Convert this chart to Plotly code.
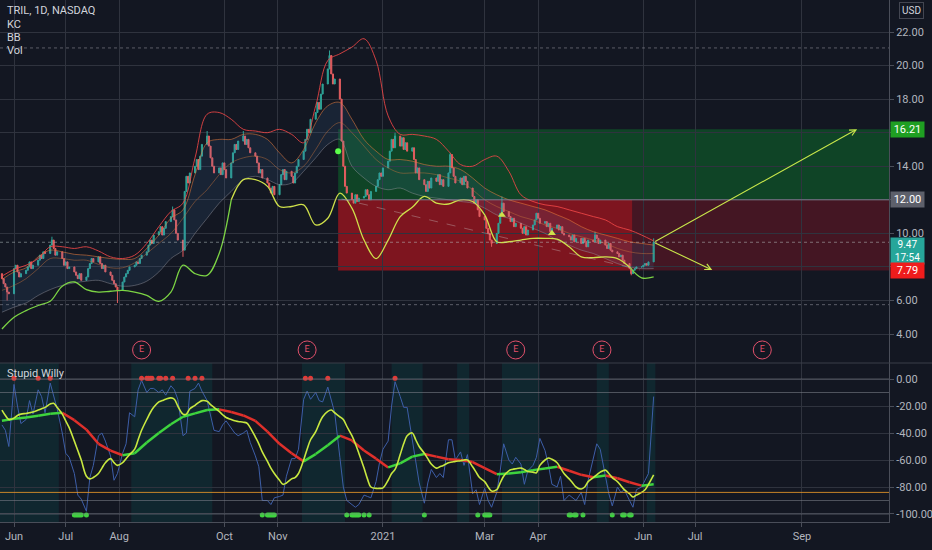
import pandas as pd
import plotly.graph_objects as go

# ---------------- data ----------------
# daily closes, trading days from 2020-05-25, one row per week (Mon..Fri)
close_rows = [
    [7.3, 7.0, 6.8, 6.5, 6.4],
    [7.9, 8.1, 7.7, 7.4, 7.6],
    [7.8, 8.0, 8.3, 7.9, 8.1],
    [8.4, 8.7, 8.5, 8.9, 8.8],
    [9.3, 9.6, 9.1, 8.7, 8.9],
    [8.5, 8.1, 8.3, 7.9, 8.0],
    [7.7, 7.5, 7.3, 7.6, 7.2],
    [7.4, 7.9, 8.2, 8.5, 8.3],
    [8.6, 8.2, 7.9, 8.1, 7.7],
    [7.5, 7.2, 7.0, 6.8, 6.6],
    [7.1, 7.4, 7.6, 7.8, 8.0],
    [8.1, 8.3, 8.2, 8.5, 8.7],
    [8.9, 9.3, 9.6, 9.4, 9.9],
    [10.1, 10.4, 9.9, 10.3, 10.7],
    [11.0, 11.4, 10.8, 10.0, 9.6],
    [9.0, 12.5, 13.4, 13.0, 13.6],
    [14.0, 14.4, 13.8, 14.6, 15.3],
    [15.8, 15.2, 14.5, 14.0, 13.6],
    [13.9, 13.5, 14.2, 13.8, 13.3],
    [14.2, 14.8, 15.3, 15.0, 15.5],
    [15.8, 15.3, 15.6, 15.1, 14.8],
    [14.6, 14.2, 13.6, 13.8, 13.3],
    [13.0, 12.7, 12.4, 12.8, 12.3],
    [12.9, 13.5, 13.8, 13.2, 13.7],
    [13.4, 13.0, 13.6, 14.0, 14.4],
    [14.9, 15.6, 16.2, 16.0, 16.8],
    [17.2, 17.8, 17.4, 18.3, 18.9],
    [19.8, 20.6, 19.5, 18.9, 19.2],
    [18.0, 15.5, 14.0, 12.8, 12.4],
    [12.0, 11.8, 12.3, 11.9, 12.1],
    [12.2, 12.6, 12.3, 12.0, 12.5],
    [12.8, 13.2, 13.6, 13.4, 13.9],
    [14.3, 14.9, 15.6, 15.1, 15.8],
    [15.2, 15.7, 15.0, 15.4, 14.9],
    [15.1, 14.4, 13.6, 13.9, 13.2],
    [12.9, 12.5, 13.1, 12.7, 13.3],
    [13.1, 13.5, 12.9, 13.2, 12.8],
    [13.6, 14.7, 13.9, 13.4, 13.0],
    [13.3, 12.9, 13.4, 13.1, 12.7],
    [12.2, 11.8, 12.0, 11.4, 11.0],
    [10.8, 10.3, 10.0, 9.6, 9.4],
    [10.0, 10.6, 11.2, 11.8, 11.3],
    [11.0, 10.7, 10.9, 10.4, 10.6],
    [10.3, 10.0, 10.4, 9.9, 10.2],
    [10.5, 10.8, 11.2, 10.9, 10.6],
    [10.7, 10.4, 10.6, 10.1, 10.3],
    [10.5, 10.2, 10.4, 10.0, 9.9],
    [9.8, 9.6, 9.9, 9.5, 9.7],
    [9.4, 9.7, 9.5, 9.2, 9.6],
    [9.5, 9.9, 9.7, 9.4, 9.6],
    [9.3, 9.1, 9.4, 9.0, 8.9],
    [8.8, 8.6, 8.7, 8.4, 8.2],
    [7.9, 7.6, 7.8, 7.9, 8.0],
    [8.0, 8.1, 8.2, 8.1, 8.3],
    [9.47],
]
first_open = 7.6
wick_high = {21: 9.8, 71: 11.6, 85: 16.1, 100: 16.1, 136: 20.9, 164: 16.0,
             186: 14.8, 208: 12.2, 246: 10.1, 270: 9.7}
wick_low = {3: 6.0, 49: 5.85, 75: 8.6, 204: 9.2, 261: 7.5}

# weekly (Monday) readings of the overlay lines
bb_upper = [7.45, 7.85, 8.1, 8.5, 9.2, 9.2, 9.1, 9.2, 8.95, 8.6, 8.5, 8.7, 9.4, 10.4, 11.3,
            11.8, 14.5, 17.1, 17.2, 16.8, 16.2, 16.1, 16.0, 16.2, 15.9, 15.4, 17.6, 20.3,
            20.7, 21.1, 21.6, 20.3, 17.0, 15.9, 15.9, 15.8, 15.6, 14.9, 14.1, 14.0, 14.4,
            14.6, 13.7, 12.3, 11.9, 11.7, 11.6, 11.4, 11.2, 11.0, 10.8, 10.4, 10.2, 9.9, 9.55]
kc_upper = [7.25, 7.7, 7.95, 8.6, 9.0, 8.9, 8.75, 8.7, 8.6, 8.5, 8.45, 8.5, 9.1, 9.9, 10.9,
            11.4, 13.5, 15.4, 15.6, 15.6, 15.9, 15.9, 15.6, 14.8, 14.2, 15.0, 16.6, 17.6,
            17.8, 16.8, 15.6, 14.9, 14.4, 14.4, 14.3, 14.1, 14.0, 14.0, 13.8, 13.3, 12.7,
            12.3, 12.0, 11.8, 11.6, 11.4, 11.1, 10.8, 10.4, 10.1, 9.9, 9.7, 9.5, 9.4, 9.3]
kc_mid = [6.6, 6.9, 7.3, 7.9, 8.5, 8.5, 8.4, 8.4, 8.15, 7.95, 7.95, 8.25, 8.8, 9.4, 10.0,
          10.9, 11.9, 12.6, 13.5, 14.2, 14.5, 14.6, 14.4, 13.8, 13.6, 14.0, 15.0, 16.1,
          16.6, 16.0, 15.2, 14.4, 13.9, 13.6, 13.6, 13.6, 13.5, 13.3, 13.1, 12.6, 12.0,
          11.6, 11.3, 11.0, 10.8, 10.5, 10.3, 10.0, 9.8, 9.6, 9.4, 9.1, 8.9, 8.8, 8.8]
kc_lower = [5.3, 5.6, 5.85, 6.3, 6.65, 6.9, 7.05, 7.15, 7.2, 7.0, 6.85, 6.9, 7.15, 7.7, 8.5,
            9.0, 10.0, 10.9, 11.8, 12.5, 13.2, 13.4, 13.2, 12.9, 13.0, 13.7, 14.5, 15.3,
            15.6, 14.0, 13.3, 12.8, 12.6, 12.7, 12.4, 12.2, 12.1, 12.0, 11.9, 11.8, 11.5,
            11.1, 10.9, 10.6, 10.3, 10.0, 9.6, 9.3, 9.0, 8.8, 8.5, 8.2, 8.0, 7.9, 7.9]
trail_band = [4.3, 5.0, 5.4, 5.7, 5.95, 6.85, 7.1, 6.65, 6.5, 6.55, 6.6, 6.5, 6.3, 5.95, 6.5,
              8.1, 7.6, 7.5, 8.8, 12.0, 13.2, 13.2, 12.8, 11.6, 11.6, 11.7, 10.5, 10.9,
              12.4, 11.5, 9.6, 8.5, 9.6, 11.0, 11.55, 12.2, 11.8, 11.75, 12.0, 11.9, 11.1,
              9.5, 9.5, 9.6, 9.7, 9.7, 9.65, 9.2, 8.6, 8.55, 8.6, 8.5, 8.0, 7.35, 7.4]

# oscillator pane ("Stupid Willy")
slow_line = [-31, -29.5, -28.5, -27.2, -25.8, -25, -30.5, -37.5, -48, -53, -56.5, -55, -47,
             -40, -33.5, -28, -25.5, -23, -22.5, -24.5, -27, -31, -39, -48, -55, -61, -55.6,
             -49, -42, -45.5, -53, -59, -65.5, -62.5, -57.5, -55.5, -57.5, -59.5, -60, -61.5,
             -66, -70.5, -70, -69, -67.5, -66.3, -65, -68, -71, -72.8, -71.5, -73.5, -76.5,
             -79, -78]
# Mon / Wed / Fri readings
fast_rows = [
    [-23, -27, -30], [-29, -27, -26], [-25.5, -25, -24.4], [-23, -22, -21], [-18.5, -18, -21],
    [-26, -31, -36], [-46, -53, -60], [-72, -74, -73], [-70, -66, -62], [-59, -62, -64],
    [-62, -59, -56], [-52, -45, -38], [-30, -25, -21], [-17, -16, -15], [-14, -15, -20],
    [-26, -26, -22], [-19.5, -17.5, -16], [-16.5, -19, -21], [-24, -26.5, -28.5], [-30, -31, -31.5],
    [-32, -32.6, -36], [-43, -48, -54], [-61, -66, -70], [-75, -78, -77], [-74, -73, -70],
    [-60, -52, -45], [-39, -33, -28], [-24, -23, -25], [-28, -30, -35], [-42, -48, -55],
    [-66, -74, -80], [-81, -81, -80.7], [-75, -70, -67], [-56, -48, -42], [-40, -45, -50],
    [-55, -59, -63], [-66, -65, -64], [-62, -61.5, -61], [-60.5, -60, -60], [-65, -69, -73],
    [-76, -80, -83], [-82, -77, -72], [-68, -67, -66.5], [-66, -67, -68.5], [-69, -69.5, -64],
    [-60, -58.5, -59.5], [-62, -66, -70], [-74, -77, -80], [-81.5, -80, -76], [-73, -71, -69],
    [-67.5, -70, -73], [-76, -79, -82], [-85, -87.4, -86], [-84, -82, -78], [-71],
]
willr_rows = [
    [-34, -38, -50], [-4, -20, -33], [-30, -16, -26], [-8, -13, -25], [-3, -12, -22],
    [-40, -55, -58], [-70, -86, -89], [-98, -73, -64], [-42, -40, -46], [-57, -75, -70],
    [-55, -48, -25], [-28, -8, -1], [-10, -7, -7], [-10, -8, -12], [-5, -8, -15],
    [-42, -40, -9], [-7, -3, -9], [-16, -28, -38], [-39, -34, -31], [-37, -40, -42],
    [-40, -38, -47], [-57, -65, -90], [-90, -93, -88], [-87, -86, -72], [-59, -59, -52],
    [-15, -9, -15], [-10, -16, -17], [-6, -16, -25], [-58, -80, -90], [-93, -95, -93],
    [-86, -87, -88], [-76, -62, -52], [-46, -20, -2], [-13, -21, -21], [-45, -63, -77],
    [-92, -77, -67], [-73, -70, -73], [-45, -45, -60], [-54, -64, -56], [-85, -82, -93],
    [-81, -90, -95], [-84, -68, -48], [-60, -63, -58], [-63, -78, -68], [-64, -58, -44],
    [-53, -64, -78], [-80, -72, -90], [-86, -88, -90], [-84, -93, -75], [-60, -48, -52],
    [-72, -85, -94], [-80, -84, -82], [-90, -95, -82], [-80, -75, -70], [-13],
]
red_dot_dates = ['2020-06-01', '2020-06-15', '2020-06-22', '2020-08-14', '2020-08-17',
                 '2020-08-18', '2020-08-19', '2020-08-20', '2020-08-24', '2020-08-25',
                 '2020-08-28', '2020-09-01', '2020-09-10', '2020-09-14', '2020-09-18',
                 '2020-11-17', '2020-11-20', '2020-11-30', '2021-01-08']
green_dot_dates = ['2020-07-06', '2020-07-07', '2020-07-08', '2020-07-09', '2020-07-10',
                   '2020-07-13', '2020-10-23', '2020-10-26', '2020-10-27', '2020-10-28',
                   '2020-10-29', '2020-10-30', '2020-12-11', '2020-12-14', '2020-12-15',
                   '2020-12-16', '2020-12-17', '2020-12-18', '2020-12-21', '2020-12-24',
                   '2021-01-25', '2021-02-25', '2021-03-01', '2021-03-02', '2021-03-03',
                   '2021-03-04', '2021-04-19', '2021-04-20', '2021-04-22', '2021-04-23',
                   '2021-04-27', '2021-05-14', '2021-05-20', '2021-05-21', '2021-05-24',
                   '2021-05-25']
shade_starts = ['2020-05-23', '2020-08-08', '2020-11-15', '2021-01-06', '2021-02-13',
                '2021-03-11', '2021-05-05', '2021-06-03']
shade_ends = ['2020-06-27', '2020-09-24', '2020-12-10', '2021-01-24', '2021-02-20',
              '2021-04-02', '2021-05-12', '2021-06-08']
osc_levels = [0, -10, -90, -100]
osc_orange_level = -84

earn_dates = ['2020-08-14', '2020-11-18', '2021-03-19', '2021-05-08', '2021-08-09']
earn_price = 3.05
signal_dates = ['2020-12-06']
signal_prices = [14.9]
tri_dates = ['2021-03-11', '2021-04-09']
tri_prices = [11.1, 10.0]

entry_price, target_price, stop_price = 12.00, 16.21, 7.79
last_price = 9.47
countdown = '17:54'
pos_start = '2020-12-06'
pos_split = '2021-05-25 12:00'
arrow_start = '2021-06-07'
arrow_up_end = ('2021-10-03', 16.21)
arrow_down_end = ('2021-07-11', 7.82)
trend_start = ('2020-12-08', 12.05)
trend_end = ('2021-05-30', 7.82)
range_high, range_low = 21.05, 5.75

x_range = ['2020-05-23 21:00', '2021-10-21 12:00']
tick_dates = ['2020-06-01', '2020-07-01', '2020-08-01', '2020-10-01', '2020-11-01',
              '2021-01-01', '2021-03-01', '2021-04-01', '2021-06-01', '2021-07-01',
              '2021-09-01']
tick_text = ['Jun', 'Jul', 'Aug', 'Oct', 'Nov', '2021', 'Mar', 'Apr', 'Jun', 'Jul', 'Sep']
price_ticks = [4, 6, 8, 10, 12, 14, 16, 18, 20, 22]
price_tick_text = ['4.00', '6.00', '', '10.00', '', '14.00', '', '18.00', '20.00', '22.00']
osc_ticks = [-100, -80, -60, -40, -20, 0]
osc_tick_text = ['-100.00', '-80.00', '-60.00', '-40.00', '-20.00', '0.00']

# ---------------- build ----------------
BG = '#131722'
GRID = '#2f333e'
AX = '#4a4e59'
TXT = '#b2b5be'

closes = [v for row in close_rows for v in row]
dates = pd.bdate_range('2020-05-25', periods=len(closes))
opens = [first_open] + closes[:-1]
highs = [max(o, c) for o, c in zip(opens, closes)]
lows = [min(o, c) for o, c in zip(opens, closes)]
for i, v in wick_high.items():
    highs[i] = max(highs[i], v)
for i, v in wick_low.items():
    lows[i] = min(lows[i], v)

wk = list(dates[::5])
mwf = [dates[i] for i in range(len(dates)) if i % 5 in (0, 2, 4)]
fast = [v for r in fast_rows for v in r]
willr = [v for r in willr_rows for v in r]

fig = go.Figure()

# channel fill + lines
fig.add_trace(go.Scatter(x=wk, y=kc_lower, mode='lines', line=dict(color='rgba(150,150,160,0.45)', width=1, shape='spline'),
                         hoverinfo='skip', yaxis='y'))
fig.add_trace(go.Scatter(x=wk, y=kc_upper, mode='lines', fill='tonexty', fillcolor='rgba(70,135,195,0.12)',
                         line=dict(color='rgba(235,125,60,0.55)', width=1, shape='spline'), hoverinfo='skip'))
fig.add_trace(go.Scatter(x=wk, y=kc_mid, mode='lines', line=dict(color='rgba(200,115,60,0.45)', width=1, shape='spline'),
                         hoverinfo='skip'))
fig.add_trace(go.Scatter(x=wk, y=bb_upper, mode='lines', line=dict(color='rgba(240,70,70,0.85)', width=1, shape='spline'),
                         hoverinfo='skip'))
for a, b, col in [(0, 20, '#7cd444'), (19, 53, '#cfe04a'), (52, 55, '#7cd444')]:
    fig.add_trace(go.Scatter(x=wk[a:b], y=trail_band[a:b], mode='lines',
                             line=dict(color=col, width=1.3, shape='spline'), hoverinfo='skip'))

fig.add_trace(go.Candlestick(x=dates, open=opens, high=highs, low=lows, close=closes,
                             increasing=dict(line=dict(color='#2ea396', width=1), fillcolor='#2ea396'),
                             decreasing=dict(line=dict(color='#e35d5f', width=1), fillcolor='#e35d5f'),
                             whiskerwidth=0, hoverinfo='skip'))

fig.add_trace(go.Scatter(x=signal_dates, y=signal_prices, mode='markers',
                         marker=dict(color='#5cff4a', size=6), hoverinfo='skip'))
fig.add_trace(go.Scatter(x=tri_dates, y=tri_prices, mode='markers',
                         marker=dict(color='#cfe04a', size=7, symbol='triangle-up'), hoverinfo='skip'))
fig.add_trace(go.Scatter(x=earn_dates, y=[earn_price] * len(earn_dates), mode='markers+text', text=['E'] * len(earn_dates),
                         textposition='middle center', textfont=dict(color='#e0506b', size=9),
                         marker=dict(size=18, color='rgba(0,0,0,0)', line=dict(color='#e0506b', width=1)),
                         cliponaxis=False, hoverinfo='skip'))

# oscillator pane
fig.add_trace(go.Scatter(x=mwf, y=willr, mode='lines', line=dict(color='#3d5ea8', width=1),
                         yaxis='y2', hoverinfo='skip'))
gx, gy, rx, ry = [], [], [], []
for i in range(len(slow_line) - 1):
    if slow_line[i + 1] >= slow_line[i]:
        gx += [wk[i], wk[i + 1], None]; gy += [slow_line[i], slow_line[i + 1], None]
    else:
        rx += [wk[i], wk[i + 1], None]; ry += [slow_line[i], slow_line[i + 1], None]
fig.add_trace(go.Scatter(x=rx, y=ry, mode='lines', line=dict(color='#e0302b', width=2.5), yaxis='y2', hoverinfo='skip'))
fig.add_trace(go.Scatter(x=gx, y=gy, mode='lines', line=dict(color='#3ed43e', width=2.5), yaxis='y2', hoverinfo='skip'))
fig.add_trace(go.Scatter(x=mwf, y=fast, mode='lines', line=dict(color='#c8e840', width=1.6, shape='spline'),
                         yaxis='y2', hoverinfo='skip'))
fig.add_trace(go.Scatter(x=red_dot_dates, y=[0.5] * len(red_dot_dates), mode='markers',
                         marker=dict(color='#e53935', size=5), yaxis='y2', hoverinfo='skip'))
fig.add_trace(go.Scatter(x=green_dot_dates, y=[-100.7] * len(green_dot_dates), mode='markers',
                         marker=dict(color='#3ed43e', size=5), yaxis='y2', hoverinfo='skip'))

# ---------------- shapes ----------------
split = (522 - 363) / 522
shapes = []
shapes.append(dict(type='rect', xref='x', yref='y', x0=pos_start, x1=x_range[1], y0=entry_price, y1=target_price,
                   fillcolor='rgba(10,160,50,0.33)', line=dict(width=0), layer='below'))
shapes.append(dict(type='rect', xref='x', yref='y', x0=pos_start, x1=x_range[1], y0=stop_price, y1=entry_price,
                   fillcolor='rgba(170,20,40,0.33)', line=dict(width=0), layer='below'))
shapes.append(dict(type='rect', xref='x', yref='y', x0=pos_start, x1=pos_split, y0=stop_price, y1=entry_price,
                   fillcolor='rgba(235,20,25,0.35)', line=dict(width=0), layer='below'))
shapes.append(dict(type='line', xref='x', yref='y', x0=pos_start, x1=x_range[1], y0=entry_price, y1=entry_price,
                   line=dict(color='rgba(130,133,145,0.9)', width=1)))
shapes.append(dict(type='line', xref='x', yref='y', x0=trend_start[0], y0=trend_start[1], x1=trend_end[0], y1=trend_end[1],
                   line=dict(color='rgba(210,210,210,0.35)', width=1, dash='dash')))
for lv in [range_high, range_low]:
    shapes.append(dict(type='line', xref='paper', yref='y', x0=0, x1=1, y0=lv, y1=lv,
                       line=dict(color='rgba(150,150,160,0.55)', width=1, dash='dot')))
shapes.append(dict(type='line', xref='paper', yref='y', x0=0, x1=1, y0=last_price, y1=last_price,
                   line=dict(color='rgba(190,200,200,0.5)', width=1, dash='dot')))
for s, e in zip(shade_starts, shade_ends):
    shapes.append(dict(type='rect', xref='x', yref='y2 domain', x0=s, x1=e, y0=0, y1=1,
                       fillcolor='rgba(0,150,136,0.13)', line=dict(width=0), layer='below'))
for lv in osc_levels:
    shapes.append(dict(type='line', xref='paper', yref='y2', x0=0, x1=1, y0=lv, y1=lv,
                       line=dict(color='rgba(120,123,134,0.6)', width=1)))
shapes.append(dict(type='line', xref='paper', yref='y2', x0=0, x1=1, y0=osc_orange_level, y1=osc_orange_level,
                   line=dict(color='rgba(230,150,40,0.85)', width=1)))
shapes.append(dict(type='line', xref='paper', yref='paper', x0=0, x1=932 / 889, y0=split, y1=split,
                   line=dict(color='#3a3e49', width=1)))

# ---------------- annotations ----------------
anns = []
for (ex, ey) in [arrow_up_end, arrow_down_end]:
    anns.append(dict(x=ex, y=ey, xref='x', yref='y', ax=arrow_start, ay=last_price, axref='x', ayref='y',
                     showarrow=True, arrowhead=5, arrowsize=1.1, arrowwidth=1.1, arrowcolor='#c8e64a', text=''))


def price_box(y, text, bg, yanchor='middle', yshift=0, size=11):
    return dict(xref='paper', x=1, xanchor='left', xshift=1, yref='y', y=y, yanchor=yanchor, yshift=yshift,
                text=text, showarrow=False, bgcolor=bg, font=dict(color='#ffffff', size=size),
                borderpad=1, width=31, align='center')


anns.append(price_box(target_price, f'{target_price:.2f}', '#1f9f22'))
anns.append(price_box(entry_price, f'{entry_price:.2f}', '#5d606b'))
anns.append(price_box(last_price, f'{last_price:.2f}<br>{countdown}', '#26a69a', yanchor='top', yshift=5, size=10))
anns.append(price_box(stop_price, f'{stop_price:.2f}', '#ef1c1c'))
anns.append(dict(xref='paper', yref='paper', x=912 / 889, y=(522 - 11) / 522, text='USD', showarrow=False,
                 font=dict(size=10, color='#d1d4dc'), bordercolor='#434651', borderwidth=1, borderpad=2,
                 bgcolor=BG, xanchor='center', yanchor='middle'))
for txt, ypx in [('TRIL, 1D, NASDAQ', 10), ('KC', 24), ('BB', 37), ('Vol', 50), ('Stupid Willy', 373)]:
    anns.append(dict(xref='paper', yref='paper', x=5 / 889, y=(522 - ypx) / 522, text=txt, showarrow=False,
                     font=dict(size=11, color='#d1d4dc'), xanchor='left', yanchor='middle'))

fig.update_layout(
    width=932, height=550, autosize=False,
    margin=dict(l=0, r=43, t=0, b=28),
    paper_bgcolor=BG, plot_bgcolor=BG, showlegend=False, boxgap=0.1,
    font=dict(family='Roboto, Liberation Sans, sans-serif', size=11, color=TXT),
    xaxis=dict(domain=[0, 1], anchor='y2', type='date', range=x_range, tickvals=tick_dates, ticktext=tick_text,
               showgrid=True, gridcolor=GRID, gridwidth=1, showline=True, linecolor=AX,
               ticks='outside', ticklen=4, tickcolor=AX,
               rangeslider=dict(visible=False), zeroline=False, tickfont=dict(size=11, color=TXT)),
    yaxis=dict(domain=[split, 1], anchor='x', side='right', range=[2.274, 23.907], tickvals=price_ticks,
               ticktext=price_tick_text, showgrid=True, gridcolor=GRID, showline=True, linecolor=AX,
               ticks='outside', ticklen=4, tickcolor=AX, zeroline=False, tickfont=dict(size=11, color=TXT)),
    yaxis2=dict(domain=[0, split], anchor='x', side='right', range=[-105.93, 11.85], tickvals=osc_ticks,
                ticktext=osc_tick_text, showgrid=True, gridcolor=GRID, showline=True, linecolor=AX,
                ticks='outside', ticklen=4, tickcolor=AX, zeroline=False, tickfont=dict(size=11, color=TXT)),
    shapes=shapes, annotations=anns,
)

fig.write_html('out.html', config={'displayModeBar': False, 'staticPlot': True},
               post_script="document.body.style.margin='0px';document.body.style.background='#131722';")
